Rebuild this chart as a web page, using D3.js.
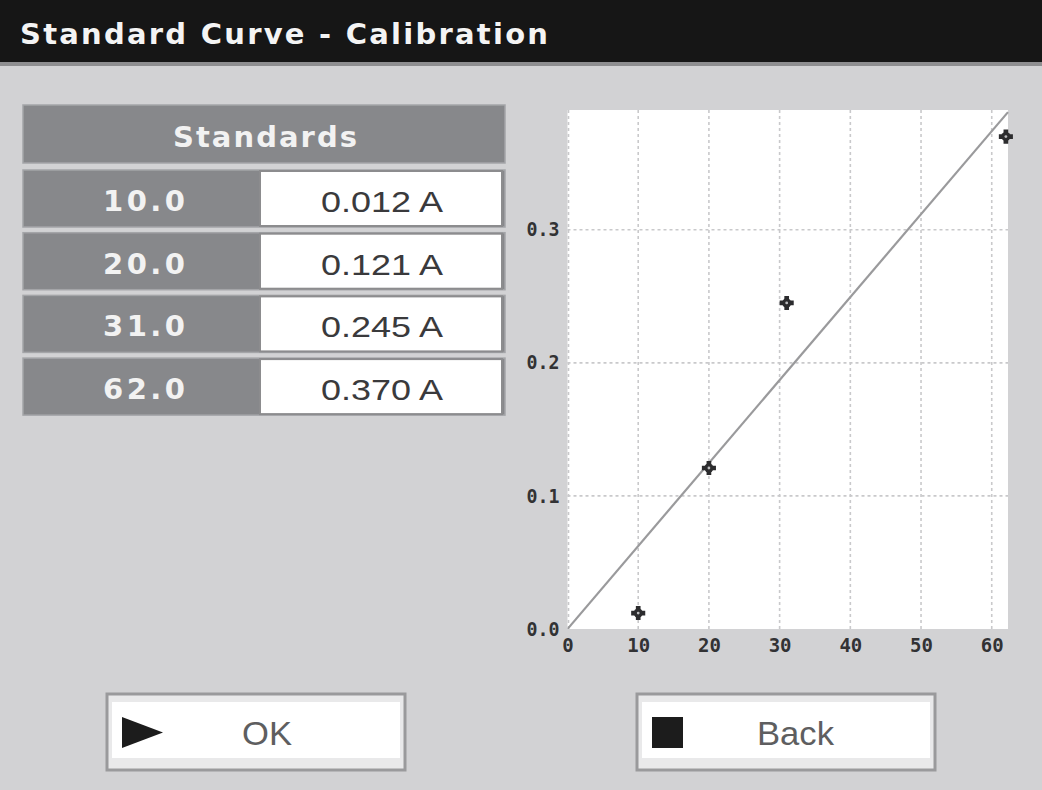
<!DOCTYPE html>
<html>
<head>
<meta charset="utf-8">
<script src="https://cdn.jsdelivr.net/npm/d3@7"></script>
<style>
  html, body { margin: 0; padding: 0; background: #d2d2d4; }
  svg { display: block; }
</style>
</head>
<body>
<svg id="chart" width="1042" height="790"></svg>
<script>
// ---- data ----
const titleText = "Standard Curve - Calibration";
const tableHeader = "Standards";
const concentrations = [10.0, 20.0, 31.0, 62.0];
const absorbances = [0.012, 0.121, 0.245, 0.370];
const xTicks = [0, 10, 20, 30, 40, 50, 60];
const yTicks = [0.0, 0.1, 0.2, 0.3];
const buttonLabels = ["OK", "Back"];

const svg = d3.select("#chart");

// background
svg.append("rect").attr("width", 1042).attr("height", 790).attr("fill", "#d2d2d4");

// title bar
svg.append("rect").attr("x", 0).attr("y", 0).attr("width", 1042).attr("height", 62).attr("fill", "#161616");
svg.append("rect").attr("x", 0).attr("y", 62).attr("width", 1042).attr("height", 4).attr("fill", "#8e8e90");
svg.append("text")
  .attr("x", 20).attr("y", 44)
  .attr("font-family", "DejaVu Sans").attr("font-weight", "bold").attr("font-size", 29)
  .attr("fill", "#f4f4f4")
  .attr("textLength", 528).attr("lengthAdjust", "spacing")
  .text(titleText);

// ---- table ----
const tbl = svg.append("g");
tbl.append("rect").attr("x", 23).attr("y", 105).attr("width", 482).attr("height", 58)
  .attr("fill", "#87888b").attr("stroke", "#a4a5a8").attr("stroke-width", 1.5);
tbl.append("text")
  .attr("x", 265).attr("y", 147).attr("text-anchor", "middle")
  .attr("font-family", "DejaVu Sans").attr("font-weight", "bold").attr("font-size", 29)
  .attr("fill", "#f2f2f2")
  .attr("textLength", 184).attr("lengthAdjust", "spacing")
  .text(tableHeader);

const rowTops = d3.range(concentrations.length).map(i => 170 + i * 62.7);
const rows = tbl.selectAll("g.row").data(concentrations.map((c, i) => ({c, a: absorbances[i], top: rowTops[i]})))
  .join("g").attr("class", "row");
rows.append("rect").attr("x", 23).attr("y", d => d.top).attr("width", 482).attr("height", 57)
  .attr("fill", "#87888b").attr("stroke", "#a4a5a8").attr("stroke-width", 1.5);
rows.append("rect").attr("x", 260).attr("y", d => d.top + 1).attr("width", 242).attr("height", 55)
  .attr("fill", "#ffffff").attr("stroke", "#8c8c8e").attr("stroke-width", 2);
rows.append("text")
  .attr("x", 144).attr("y", d => d.top + 41).attr("text-anchor", "middle")
  .attr("font-family", "DejaVu Sans").attr("font-weight", "bold").attr("font-size", 29)
  .attr("fill", "#f2f2f2")
  .attr("textLength", 82).attr("lengthAdjust", "spacing")
  .text(d => d3.format(".1f")(d.c));
rows.append("text")
  .attr("x", 382).attr("y", d => d.top + 42).attr("text-anchor", "middle")
  .attr("font-family", "Liberation Sans").attr("font-size", 30)
  .attr("fill", "#3a3a3c")
  .attr("textLength", 122).attr("lengthAdjust", "spacingAndGlyphs")
  .text(d => d3.format(".3f")(d.a) + " A");

// ---- chart ----
const plot = {left: 567.5, right: 1008, top: 110, bottom: 629};
const x = d3.scaleLinear().domain([0, 62.3]).range([plot.left, plot.right]);
const y = d3.scaleLinear().domain([0, 0.39]).range([plot.bottom, plot.top]);

svg.append("rect").attr("x", plot.left).attr("y", plot.top)
  .attr("width", plot.right - plot.left).attr("height", plot.bottom - plot.top)
  .attr("fill", "#ffffff");

const grid = svg.append("g").attr("stroke", "#c9c9cb").attr("stroke-width", 1.6).attr("stroke-dasharray", "3,3");
grid.selectAll("line.v").data(xTicks).join("line").attr("class", "v")
  .attr("x1", d => x(d) + (d === 0 ? 1 : 0)).attr("x2", d => x(d) + (d === 0 ? 1 : 0))
  .attr("y1", plot.top).attr("y2", plot.bottom);
grid.selectAll("line.h").data(yTicks.filter(d => d > 0)).join("line").attr("class", "h")
  .attr("x1", plot.left).attr("x2", plot.right)
  .attr("y1", d => y(d)).attr("y2", d => y(d));

// least-squares line through origin
const slope = d3.sum(concentrations, (c, i) => c * absorbances[i]) / d3.sum(concentrations, c => c * c);
const fitX = x.domain();
svg.append("clipPath").attr("id", "clip").append("rect")
  .attr("x", plot.left).attr("y", plot.top - 4)
  .attr("width", plot.right - plot.left + 2).attr("height", plot.bottom - plot.top + 4);
svg.append("line")
  .attr("clip-path", "url(#clip)")
  .attr("x1", x(fitX[0])).attr("y1", y(slope * fitX[0]))
  .attr("x2", x(fitX[1])).attr("y2", y(slope * fitX[1]))
  .attr("stroke", "#9a9a9c").attr("stroke-width", 2.2);

// axes
const axisFont = g => g.selectAll("text")
  .attr("font-family", "DejaVu Sans Mono").attr("font-weight", "bold").attr("font-size", 19)
  .attr("fill", "#323234");
const gy = svg.append("g").attr("transform", `translate(${plot.left},0)`)
  .call(d3.axisLeft(y).tickValues(yTicks).tickFormat(d3.format(".1f")).tickSize(0).tickPadding(8));
gy.select(".domain").remove();
gy.call(axisFont);
gy.selectAll("text").attr("textLength", 33).attr("lengthAdjust", "spacingAndGlyphs");
const gx = svg.append("g").attr("transform", `translate(0,${plot.bottom})`)
  .call(d3.axisBottom(x).tickValues(xTicks).tickFormat(d3.format("d")).tickSize(0).tickPadding(10));
gx.select(".domain").remove();
gx.call(axisFont);

// markers
const pts = svg.append("g").selectAll("g.pt").data(concentrations.map((c, i) => ({c, a: absorbances[i]})))
  .join("g").attr("class", "pt")
  .attr("transform", d => `translate(${x(d.c)},${y(d.a)})`);
pts.append("path").attr("d", d3.symbol(d3.symbolCross).size(110)).attr("fill", "#2c2c2e");
pts.append("circle").attr("r", 4.6).attr("fill", "#2c2c2e");
pts.append("circle").attr("r", 1.4).attr("fill", "#bdbdbf");

// ---- buttons ----
const buttons = [
  {label: buttonLabels[0], x: 107, icon: "tri", textX: 267, textW: 50},
  {label: buttonLabels[1], x: 637, icon: "sq", textX: 795.5, textW: 77}
];
const btn = svg.selectAll("g.btn").data(buttons).join("g").attr("class", "btn");
btn.append("rect").attr("x", d => d.x).attr("y", 694).attr("width", 298).attr("height", 76)
  .attr("fill", "#e9e9ea").attr("stroke", "#9a9a9c").attr("stroke-width", 3);
btn.append("rect").attr("x", d => d.x + 5).attr("y", 702).attr("width", 288).attr("height", 56)
  .attr("fill", "#ffffff");
btn.filter(d => d.icon === "tri").append("path")
  .attr("d", d => `M${d.x + 15},717 L${d.x + 56},732.5 L${d.x + 15},748 Z`)
  .attr("fill", "#1c1c1c");
btn.filter(d => d.icon === "sq").append("rect")
  .attr("x", d => d.x + 15).attr("y", 717).attr("width", 31).attr("height", 31)
  .attr("fill", "#1c1c1c");
btn.append("text")
  .attr("x", d => d.textX).attr("y", 745).attr("text-anchor", "middle")
  .attr("font-family", "Liberation Sans").attr("font-size", 34)
  .attr("fill", "#5e5e60")
  .attr("textLength", d => d.textW).attr("lengthAdjust", "spacingAndGlyphs")
  .text(d => d.label);
</script>
</body>
</html>
